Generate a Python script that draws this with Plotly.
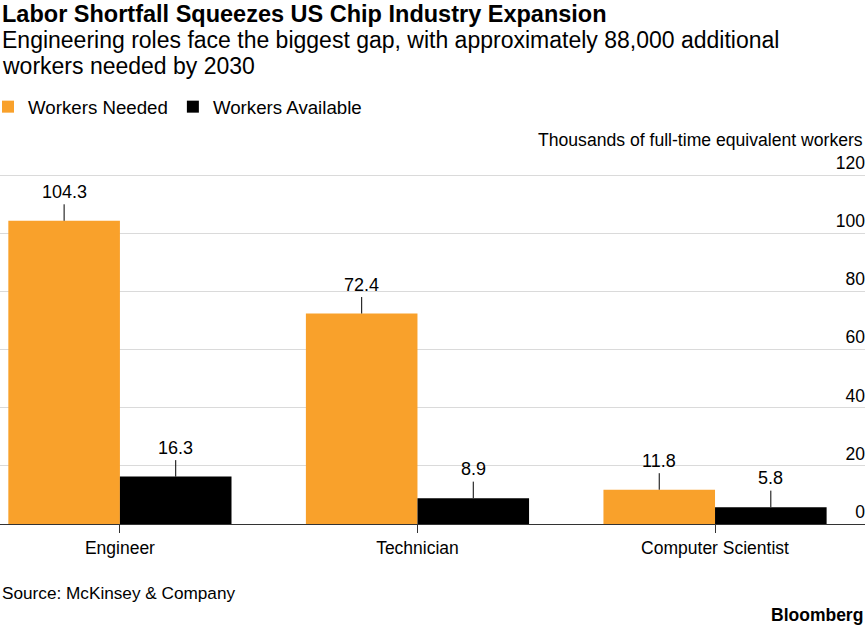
import plotly.graph_objects as go

categories = ["Engineer", "Technician", "Computer Scientist"]
needed = [104.3, 72.4, 11.8]
available = [16.3, 8.9, 5.8]
y_ticks = [0, 20, 40, 60, 80, 100, 120]

ORANGE = "#F9A12B"
BLACK = "#000000"
FONT = "Liberation Sans, Arial, sans-serif"

W, H = 865, 628
TOP, BOT = 149, 524  # plot area pixel rows
YMAX = 129


def py(ypx):
    return (BOT - ypx) / (BOT - TOP)


def px(xpx):
    return xpx / W


fig = go.Figure()
fig.add_trace(go.Bar(name="Workers Needed", x=categories, y=needed,
                     marker=dict(color=ORANGE, line=dict(width=0))))
fig.add_trace(go.Bar(name="Workers Available", x=categories, y=available,
                     marker=dict(color=BLACK, line=dict(width=0))))

bargap = 0.25
half = (1 - bargap) / 4
annotations = []
for i, cat in enumerate(categories):
    for val, off in ((needed[i], -half), (available[i], half)):
        annotations.append(dict(
            x=i + off, y=val, xref="x", yref="y", text=f"{val:.1f}",
            showarrow=True, arrowhead=0, arrowwidth=1, arrowcolor="#000",
            ax=0, ay=-29, standoff=0, borderpad=2,
            font=dict(size=18, color="#000", family=FONT)))

annotations += [
    dict(text="<b>Labor Shortfall Squeezes US Chip Industry Expansion</b>",
         x=0, y=py(14), xref="paper", yref="paper",
         xanchor="left", yanchor="middle", showarrow=False,
         font=dict(size=23.5, color="#000", family=FONT)),
    dict(text="Engineering roles face the biggest gap, with approximately 88,000 additional",
         x=0, y=py(40), xref="paper", yref="paper",
         xanchor="left", yanchor="middle", showarrow=False, align="left",
         font=dict(size=23, color="#000", family=FONT)),
    dict(text="workers needed by 2030",
         x=0, y=py(66), xref="paper", yref="paper",
         xanchor="left", yanchor="middle", showarrow=False, align="left",
         font=dict(size=23, color="#000", family=FONT)),
    dict(text="Thousands of full-time equivalent workers",
         x=px(W), y=py(140), xref="paper", yref="paper",
         xanchor="right", yanchor="middle", showarrow=False,
         font=dict(size=17.6, color="#000", family=FONT)),
    dict(text="Source: McKinsey & Company",
         x=0, y=py(593), xref="paper", yref="paper",
         xanchor="left", yanchor="middle", showarrow=False,
         font=dict(size=17.2, color="#000", family=FONT)),
    dict(text="<b>Bloomberg</b>",
         x=px(W), y=py(615), xref="paper", yref="paper",
         xanchor="right", yanchor="middle", showarrow=False,
         font=dict(size=17.5, color="#000", family=FONT)),
]

fig.update_layout(
    width=W, height=H,
    margin=dict(l=0, r=0, t=TOP, b=H - BOT, autoexpand=False),
    paper_bgcolor="white", plot_bgcolor="white",
    barmode="group", bargap=bargap, bargroupgap=0,
    font=dict(family=FONT, size=17, color="#000"),
    showlegend=True,
    legend=dict(orientation="h", x=px(-12), y=py(107), xref="paper", yref="paper",
                xanchor="left", yanchor="middle", font=dict(size=18.7, color="#000"),
                traceorder="normal"),
    xaxis=dict(type="category", range=[-0.403, 2.504], showline=True, linecolor="#333",
               linewidth=1, ticks="outside", ticklen=8, tickcolor="#333",
               tickfont=dict(size=17.5, color="#000"), showgrid=False, fixedrange=True),
    yaxis=dict(range=[0, YMAX], tickvals=y_ticks, side="right", ticklabelposition="inside top",
               ticklabelstandoff=-3,
               showgrid=True, gridcolor="#dadada", gridwidth=1, zeroline=False, showline=False,
               tickfont=dict(size=17.5, color="#000"), ticks=""),
    annotations=annotations,
)

fig.write_html("out.html")
